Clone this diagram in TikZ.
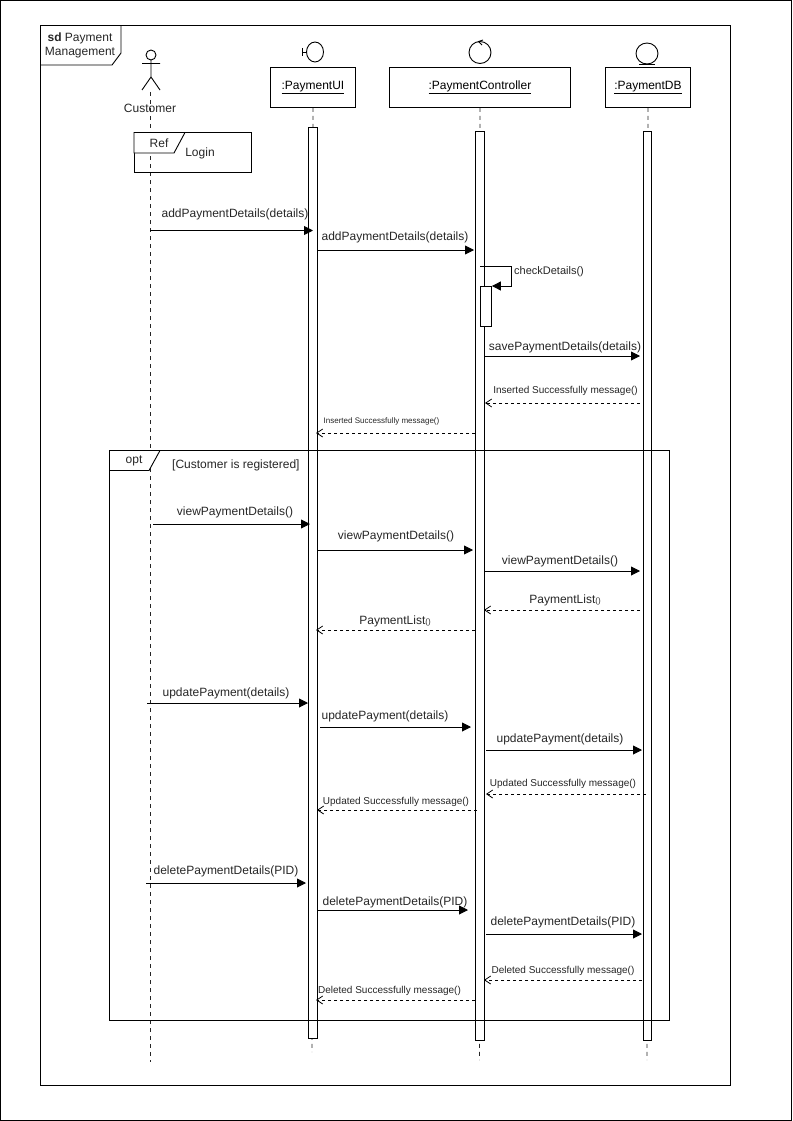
\documentclass[tikz,border=0pt]{standalone}
\usepackage{fontspec}
\setmainfont{Liberation Sans}
\usetikzlibrary{arrows.meta}
\tikzset{
  x=1pt,y=-1pt,
  ln/.style={draw=black,line width=0.9pt},
  life/.style={draw=black!85,line width=0.8pt,dash pattern=on 4pt off 4pt},
  bar/.style={draw=black,fill=white,line width=0.9pt},
  obj/.style={draw=black,fill=white,line width=0.9pt,anchor=north west,inner sep=0pt,font=\fontsize{12}{14}\selectfont},
  txt/.style={font=\fontsize{12}{14}\selectfont,text=black!85,inner sep=0pt,yshift=-1pt},
  small/.style={font=\fontsize{10}{11}\selectfont,text=black!85,inner sep=0pt,yshift=-1pt},
  tiny/.style={font=\fontsize{8}{10}\selectfont,text=black!85,inner sep=0pt,yshift=-1pt},
  call/.style={ln,-{Triangle[length=9pt,width=9pt]}},
  ret/.style={draw=black,line width=0.8pt,dash pattern=on 3pt off 3pt,-{Straight Barb[length=6pt,width=8pt]}},
}
\newcommand{\msg}[8]{% name,style,x1,x2,y,labelstyle,lx/ly,text
  \coordinate (#1a) at (#3,#5);
  \coordinate (#1b) at (#4,#5);
  \draw[#2] (#1a) -- (#1b);
  \node[#6] (#1t) at (#7) {#8};
}
\begin{document}
\begin{tikzpicture}
\useasboundingbox (0,0) rectangle (792,1121);
\draw[ln] (0.5,0.5) rectangle (791,1120.5);
% frame
\draw[ln] (40.5,25.5) rectangle (730.5,1085);
\draw[ln] (40.5,65) -- (112,65) -- (121,53) -- (121,25.5);
\node[txt,align=center] (sdt) at (80,44.5) {\textbf{sd} Payment\\Management};
% lifelines
\coordinate (cTop) at (150.5,92);
\coordinate (cBot) at (150.5,1062);
\coordinate (uBot) at (312,1052);
\coordinate (pBot) at (479.5,1060);
\coordinate (dBot) at (647,1060);
\draw[life] (cTop) -- (cBot);
% actor
\draw[ln] (151,55) circle[radius=5];
\draw[ln] (151,60) -- (151,77) (142,63.5) -- (160,63.5) (142,90) -- (151,77) -- (160,90);
\node[txt] (cust) at (150,107) {Customer};
% ref
\node[draw=black,line width=0.9pt,fill=none,minimum width=117pt,minimum height=39pt,anchor=north west,inner sep=0pt] (refb) at (134,132.5) {};
\draw[ln,fill=white] (134,132.5) -- (134,153) -- (174,153) -- (185,132.5) -- cycle;
\node[txt] (reft) at (159,142) {Ref};
\node[txt] (login) at (200,152) {Login};
% objects
\node[obj,minimum width=85pt,minimum height=40pt] (ui) at (270,67) {\underline{:PaymentUI}};
\node[obj,minimum width=181pt,minimum height=40pt] (pc) at (389,67) {\underline{:PaymentController}};
\node[obj,minimum width=85pt,minimum height=40pt] (db) at (605,67) {\underline{:PaymentDB}};
\draw[life] (ui.south) -- (uBot);
\draw[life] (pc.south) -- (pBot);
\draw[life] (db.south) -- (dBot);
% icons
\draw[ln] (315,52) ellipse[x radius=8.5,y radius=10];
\draw[ln] (302.5,52) -- (306.5,52) (302.5,48) -- (302.5,56);
\draw[ln] (480,52.5) circle[radius=11];
\draw[ln] (483,40) -- (478.5,41.5) -- (482,45);
\draw[ln] (647,53.5) ellipse[x radius=11,y radius=10.5];
\draw[ln] (639,64) -- (655,64);
% activation bars
\node[bar,minimum width=9pt,minimum height=910pt,anchor=north west,inner sep=0pt] (uA) at (308,127.5) {};
\node[bar,minimum width=9pt,minimum height=909pt,anchor=north west,inner sep=0pt] (pA) at (475,131) {};
\node[bar,minimum width=8.5pt,minimum height=909pt,anchor=north west,inner sep=0pt] (dA) at (642.5,131) {};
% opt frame
\draw[ln] (109.5,450.5) rectangle (669,1020.5);
\draw[ln,fill=white] (109.5,450.5) -- (109.5,470.5) -- (149,470.5) -- (160,450.5) -- cycle;
\node[txt] (opt) at (134,459.5) {opt};
\node[txt,anchor=west] (guard) at (172,464) {[Customer is registered]};
% self call
\node[bar,minimum width=11pt,minimum height=40pt,anchor=north west,inner sep=0pt] (sA) at (480,286) {};
\coordinate (s1) at (480,266);
\draw[call] (s1) -- (511,266) -- (511,286) -- (sA.north east);
\node[txt,font=\fontsize{11}{12}\selectfont,anchor=west] (chk) at (514,271) {checkDetails()};
% messages
\msg{a}{call}{150}{313}{230.5}{txt}{235,213}{addPaymentDetails(details)}
\msg{b}{call}{317}{474}{250}{txt}{395,236}{addPaymentDetails(details)}
\msg{c}{call}{485}{640}{356}{txt}{565,346}{savePaymentDetails(details)}
\msg{d}{ret}{640}{485}{403}{small}{565.5,390}{Inserted Successfully message()}
\msg{e}{ret}{475}{316}{433}{tiny}{381.5,420}{Inserted Successfully message()}
\msg{f}{call}{153}{310}{524}{txt}{235,511}{viewPaymentDetails()}
\msg{g}{call}{317}{473}{550}{txt}{396,535}{viewPaymentDetails()}
\msg{h}{call}{484}{640}{571}{txt}{560,560}{viewPaymentDetails()}
\msg{i}{ret}{640}{484}{610}{txt}{565,599}{PaymentList\fontsize{8}{10}\selectfont()}
\msg{j}{ret}{475}{316}{630}{txt}{395,620}{PaymentList\fontsize{8}{10}\selectfont()}
\msg{k}{call}{147}{308}{703}{txt}{226,692}{updatePayment(details)}
\msg{l}{call}{320}{471}{727}{txt}{385,715}{updatePayment(details)}
\msg{m}{call}{486}{642}{750}{txt}{560,738}{updatePayment(details)}
\msg{n}{ret}{646}{486}{794}{small}{563,783}{Updated Successfully message()}
\msg{o}{ret}{477}{317}{810}{small}{396,801}{Updated Successfully message()}
\msg{p}{call}{146}{306}{883}{txt}{226,870}{deletePaymentDetails(PID)}
\msg{q}{call}{317}{468}{910}{txt}{395,901}{deletePaymentDetails(PID)}
\msg{r}{call}{486}{642}{934}{txt}{563,921}{deletePaymentDetails(PID)}
\msg{s}{ret}{642}{484}{980}{small}{563,970}{Deleted Successfully message()}
\msg{t}{ret}{475}{316}{1000}{small}{389.5,990}{Deleted Successfully message()}
\end{tikzpicture}
\end{document}
